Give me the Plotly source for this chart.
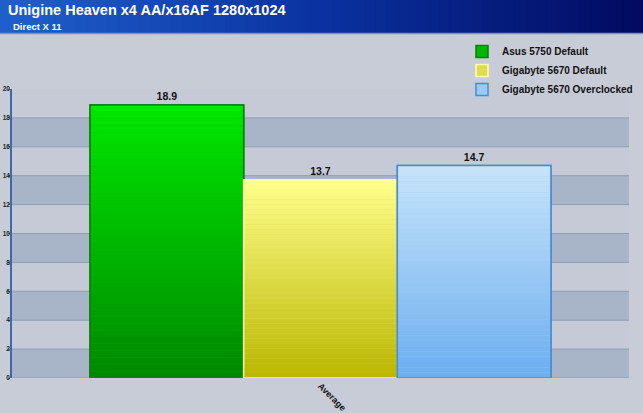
import plotly.graph_objects as go

# ---- data ----
categories = ["Average"]
series_names = ["Asus 5750 Default", "Gigabyte 5670 Default", "Gigabyte 5670 Overclocked"]
series_values = [18.9, 13.7, 14.7]
y_ticks = [0, 2, 4, 6, 8, 10, 12, 14, 16, 18, 20]

# ---- styles ----
W, H = 643, 413
ML, MR, MT, MB = 12, 14, 89, 35
PW, PH = W - ML - MR, H - MT - MB

grad_top = [(0, 232, 0), (255, 255, 140), (200, 228, 250)]
grad_bot = [(0, 136, 0), (186, 182, 0), (108, 174, 240)]
border = ["#0a800a", "#ffffa8", "#4a8ad0"]
mid = ["#00b800", "#e0dc50", "#98ccf4"]

def rgb(c):
    return "rgb(%d,%d,%d)" % tuple(int(round(v)) for v in c)

def lerp(a, b, t):
    return tuple(a[i] + (b[i] - a[i]) * t for i in range(3))

def px_x(px):
    return (px - ML) / PW

def px_y(py):
    return (H - MB - py) / PH

fig = go.Figure()
N = 40
for i, (name, val) in enumerate(zip(series_names, series_values)):
    og = str(i)
    fig.add_trace(go.Bar(
        x=categories, y=[val], name=name, offsetgroup=og,
        marker=dict(color=mid[i], line=dict(color=border[i], width=1.5)),
        text=["%.1f" % val], textposition="outside",
        textfont=dict(size=10.5, color="#111111", family="Liberation Sans", weight="bold"),
        cliponaxis=False, hoverinfo="skip",
    ))
    seg = val / N
    cols = [rgb(lerp(grad_bot[i], grad_top[i], (k + 0.5) / N)) for k in range(N)]
    fig.add_trace(go.Bar(
        x=categories * N, y=[seg] * N, base=[seg * k for k in range(N)],
        offsetgroup=og, showlegend=False, hoverinfo="skip",
        marker=dict(color=cols, line=dict(width=0)),
    ))
    fig.add_trace(go.Bar(
        x=categories, y=[val], offsetgroup=og, showlegend=False, hoverinfo="skip",
        marker=dict(color="rgba(0,0,0,0)", line=dict(color=border[i], width=1.5)),
    ))

shapes = []
for k in range(0, 20, 4):
    shapes.append(dict(type="rect", xref="paper", yref="y", x0=0, x1=1, y0=k, y1=k + 2,
                       fillcolor="#a8b4c7", line=dict(width=0), layer="below"))
    for yy in (k, k + 2):
        shapes.append(dict(type="line", xref="paper", yref="y", x0=0, x1=1, y0=yy, y1=yy,
                           line=dict(color="#8d9cb6", width=1), layer="below"))
stops = [(0.0, (32, 96, 204)), (0.5, (10, 50, 160)), (1.0, (2, 10, 96))]
NS = 60
x_start, x_end = px_x(0), px_x(W)
for k in range(NS):
    t = (k + 0.5) / NS
    if t <= 0.5:
        c = lerp(stops[0][1], stops[1][1], t / 0.5)
    else:
        c = lerp(stops[1][1], stops[2][1], (t - 0.5) / 0.5)
    xa = x_start + (x_end - x_start) * k / NS
    xb = x_start + (x_end - x_start) * (k + 1) / NS + 0.002
    shapes.append(dict(type="rect", xref="paper", yref="paper", x0=xa, x1=xb,
                       y0=px_y(33), y1=px_y(0), fillcolor=rgb(c), line=dict(width=0), layer="below"))
shapes.append(dict(type="line", xref="paper", yref="paper", x0=x_start, x1=x_end,
                   y0=px_y(33.5), y1=px_y(33.5), line=dict(color="#7f8fc4", width=1.5)))

annotations = [
    dict(text="Unigine Heaven x4 AA/x16AF 1280x1024", xref="paper", yref="paper",
         x=px_x(6), y=px_y(10.5), xanchor="left", yanchor="middle", showarrow=False,
         font=dict(size=14.5, color="white", family="Liberation Sans", weight="bold")),
    dict(text="Direct X 11", xref="paper", yref="paper",
         x=px_x(11), y=px_y(26.5), xanchor="left", yanchor="middle", showarrow=False,
         font=dict(size=9.5, color="white", family="Liberation Sans", weight="bold")),
]

fig.update_layout(
    width=W, height=H,
    margin=dict(l=ML, r=MR, t=MT, b=MB, pad=0, autoexpand=False),
    paper_bgcolor="#c8ccd6", plot_bgcolor="#c6cad6",
    barmode="group", bargap=0.253, bargroupgap=0,
    shapes=shapes, annotations=annotations,
    showlegend=True,
    legend=dict(xref="container", yref="container", x=462 / W, y=1 - 37 / H,
                xanchor="left", yanchor="top",
                bgcolor="rgba(0,0,0,0)", tracegroupgap=0, itemwidth=30,
                font=dict(size=10, color="#111111", family="Liberation Sans", weight="bold")),
    xaxis=dict(type="category", tickangle=45, showgrid=False, zeroline=False,
               showline=False, ticks="", automargin=False,
               tickfont=dict(size=9, color="#111111", family="Liberation Sans", weight="bold")),
    yaxis=dict(range=[0, 20], tickvals=y_ticks, showgrid=False, zeroline=False,
               showline=True, linecolor="#3c6aa8", linewidth=1.5, automargin=False,
               ticks="outside", ticklen=2, tickcolor="#3c6aa8", ticklabelstandoff=-3,
               tickfont=dict(size=6.5, color="#222222", family="Liberation Sans", weight="bold")),
)

fig.write_html(
    "out.html",
    config={"displayModeBar": False},
    post_script="document.body.style.margin='0';document.body.style.overflow='hidden';",
)
